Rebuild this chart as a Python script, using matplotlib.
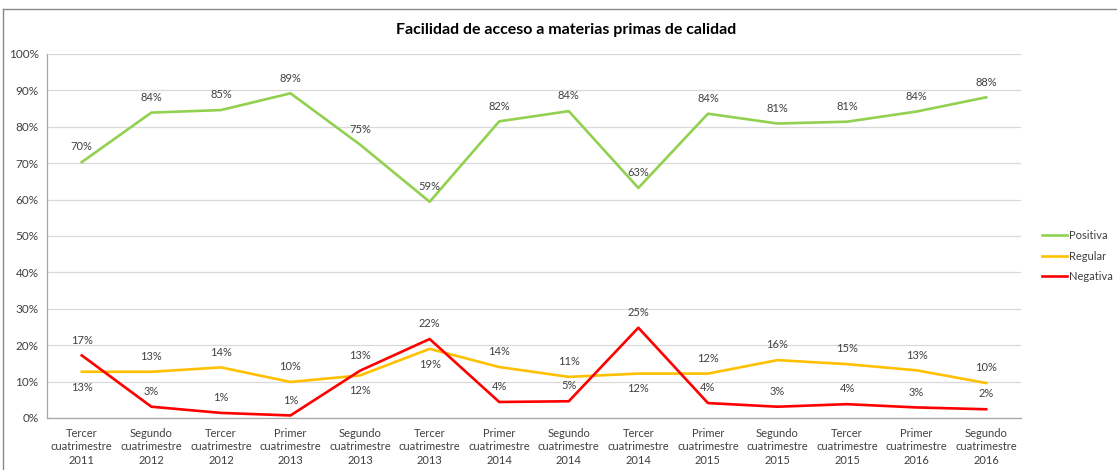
import matplotlib
matplotlib.use("Agg")
import matplotlib.pyplot as plt
from matplotlib.ticker import PercentFormatter

periods = ["Tercer\ncuatrimestre\n2011", "Segundo\ncuatrimestre\n2012",
           "Tercer\ncuatrimestre\n2012", "Primer\ncuatrimestre\n2013",
           "Segundo\ncuatrimestre\n2013", "Tercer\ncuatrimestre\n2013",
           "Primer\ncuatrimestre\n2014", "Segundo\ncuatrimestre\n2014",
           "Tercer\ncuatrimestre\n2014", "Primer\ncuatrimestre\n2015",
           "Segundo\ncuatrimestre\n2015", "Tercer\ncuatrimestre\n2015",
           "Primer\ncuatrimestre\n2016", "Segundo\ncuatrimestre\n2016"]
positiva = [70.3, 83.9, 84.6, 89.2, 75.1, 59.4, 81.5, 84.3, 63.2, 83.6, 80.9, 81.4, 84.2, 88.1]
regular = [12.7, 12.7, 13.9, 9.9, 11.7, 19.0, 14.0, 11.3, 12.2, 12.2, 15.9, 14.8, 13.1, 9.6]
negativa = [17.2, 3.1, 1.4, 0.7, 13.0, 21.7, 4.4, 4.6, 24.8, 4.1, 3.1, 3.8, 2.9, 2.4]

plt.rcParams["font.family"] = ["Lato", "DejaVu Sans"]
TXT = "#404040"

fig = plt.figure(figsize=(11.17, 4.70), dpi=100)
ax = fig.add_axes([47 / 1117, 52 / 470, (1021 - 47) / 1117, (418 - 54) / 470])

x = list(range(len(periods)))
series = [("Positiva", positiva, "#92d050"),
          ("Regular", regular, "#ffc000"),
          ("Negativa", negativa, "#ff0000")]
for name, vals, col in series:
    ax.plot(x, vals, color=col, lw=1.9, label=name, solid_joinstyle="round")

# data labels
for i in x:
    ax.annotate(f"{positiva[i]:.0f}%", (i, positiva[i]), xytext=(0, 11),
                textcoords="offset points", ha="center", va="center",
                fontsize=8, color=TXT)
    ax.annotate(f"{negativa[i]:.0f}%", (i, negativa[i]), xytext=(0, 11),
                textcoords="offset points", ha="center", va="center",
                fontsize=8, color=TXT)
    dy = -11 if negativa[i] > regular[i] else 11
    ax.annotate(f"{regular[i]:.0f}%", (i, regular[i]), xytext=(0, dy),
                textcoords="offset points", ha="center", va="center",
                fontsize=8, color=TXT)

ax.set_xlim(-0.5, len(periods) - 0.5)
ax.set_ylim(0, 100)
ax.set_yticks(range(0, 101, 10))
ax.yaxis.set_major_formatter(PercentFormatter(decimals=0))
ax.set_xticks(x)
ax.set_xticklabels(periods, fontsize=8, color=TXT, linespacing=1.3)
ax.tick_params(axis="y", labelsize=8.5, colors=TXT, length=0, pad=6)
ax.tick_params(axis="x", length=0, pad=7)
ax.grid(axis="y", color="#d9d9d9", lw=0.9)
ax.set_axisbelow(True)
for s in ("top", "right"):
    ax.spines[s].set_visible(False)
for s in ("left", "bottom"):
    ax.spines[s].set_color("#a6a6a6")
    ax.spines[s].set_linewidth(0.9)

fig.text(566 / 1117, 1 - 30 / 470, "Facilidad de acceso a materias primas de calidad",
         ha="center", va="center", fontsize=11.5, fontweight="bold", color="#000000")

leg = ax.legend(loc="center left", bbox_to_anchor=(1038 / 1117, 1 - 256 / 470),
                bbox_transform=fig.transFigure, frameon=False, fontsize=8,
                handlelength=2.2, handletextpad=0.2, labelspacing=0.85,
                borderaxespad=0)
for t in leg.get_texts():
    t.set_color(TXT)

# outer chart border (top and left visible)
fig.add_artist(plt.Line2D([3 / 1117, 1], [1 - 9 / 470, 1 - 9 / 470],
                          transform=fig.transFigure, color="#898989", lw=1))
fig.add_artist(plt.Line2D([3 / 1117, 3 / 1117], [0, 1 - 9 / 470],
                          transform=fig.transFigure, color="#898989", lw=1))

fig.savefig("out.png", dpi=100)
